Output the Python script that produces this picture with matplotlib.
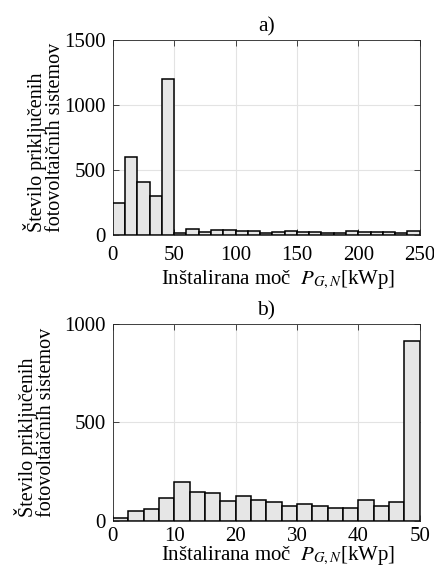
import numpy as np
import matplotlib
matplotlib.use("Agg")
import matplotlib.pyplot as plt

# histogram a): bins of 10 kWp from 0 to 250
edges_a = np.arange(0, 260, 10)
counts_a = [248, 598, 411, 296, 1198, 13, 49, 23, 41, 41, 33, 31, 18,
            20, 31, 20, 23, 15, 18, 28, 20, 20, 20, 13, 28]

# histogram b): bins of 2.5 kWp from 0 to 50
edges_b = np.arange(0, 52.5, 2.5)
counts_b = [14, 53, 63, 115, 200, 149, 141, 103, 129, 105, 98, 75, 86,
            78, 68, 64, 105, 76, 98, 914]

ylabel = "Število priključenih\nfotovoltaičnih sistemov"
xlabel = "Inštalirana moč  $P_{G,N}$[kWp]"

plt.rcParams['font.family'] = ['Liberation Serif', 'DejaVu Serif']
plt.rcParams['mathtext.fontset'] = 'stix'

fig = plt.figure(figsize=(4.34, 5.76), dpi=100)
ax_a = fig.add_axes([0.260, 0.592, 0.707, 0.339])
ax_b = fig.add_axes([0.260, 0.0955, 0.707, 0.342])


def draw_hist(ax, edges, counts, xticks, yticks, title, xpad, ylab_x, xlab_y):
    ax.bar(edges[:-1], counts, width=np.diff(edges), align='edge',
           color='#e6e6e6', edgecolor='black', linewidth=1.1, zorder=3)
    ax.set_xlim(edges[0], edges[-1])
    ax.set_ylim(yticks[0], yticks[-1])
    ax.set_xticks(xticks)
    ax.set_yticks(yticks)
    ax.grid(True, color='#e3e3e3', linewidth=0.8, zorder=0)
    ax.tick_params(direction='in', top=True, right=True, length=4,
                   width=0.6, color='#262626', labelsize=15)
    ax.tick_params(axis='x', pad=xpad)
    ax.tick_params(axis='y', pad=5)
    for s in ax.spines.values():
        s.set_linewidth(0.6)
        s.set_color('#262626')
    ax.set_title(title, fontsize=15.5, pad=6)
    ax.set_ylabel(ylabel, fontsize=14.5, linespacing=0.92,
                  multialignment='left')
    ax.yaxis.set_label_coords(ylab_x, 0.5)
    ax.set_xlabel(xlabel, fontsize=15)
    ax.xaxis.set_label_coords(0.54, xlab_y)


draw_hist(ax_a, edges_a, counts_a, [0, 50, 100, 150, 200, 250],
          [0, 500, 1000, 1500], "a)", 8, -0.155, -0.17)
draw_hist(ax_b, edges_b, counts_b, [0, 10, 20, 30, 40, 50],
          [0, 500, 1000], "b)", 4, -0.185, -0.12)

fig.savefig("out.png", dpi=100)
